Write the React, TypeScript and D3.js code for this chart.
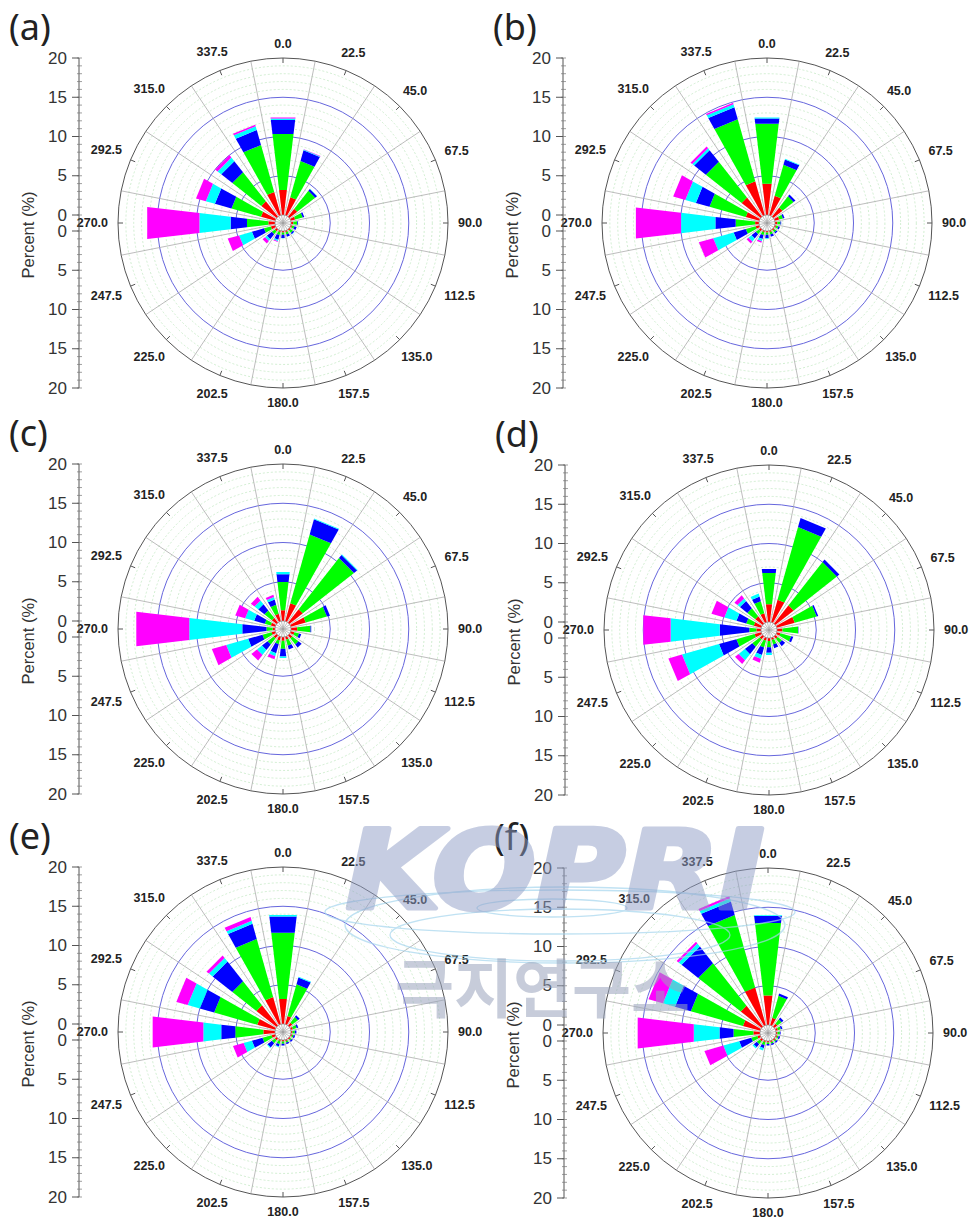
import React from 'react';
import * as d3 from 'd3';

const directions = [0, 22.5, 45, 67.5, 90, 112.5, 135, 157.5, 180, 202.5, 225, 247.5, 270, 292.5, 315, 337.5];
const speedColors = ['#ff0000', '#00ff00', '#0000ff', '#00ffff', '#ff00ff'];
const axisMajorTicks = [0, 5, 10, 15, 20];
const panelLabels = ['(a)', '(b)', '(c)', '(d)', '(e)', '(f)'];

// rows follow `directions`; columns are speed classes [red, green, blue, cyan, magenta] in %
const windA = [
  [3.2, 7.2, 1.8, 0.2, 0.1], [2.4, 4.8, 1.4, 0.1, 0.05], [1.3, 2.9, 0.3, 0.05, 0], [0.6, 1.0, 0.2, 0, 0],
  [0.3, 0.5, 0.1, 0, 0], [0.2, 0.3, 0.3, 0, 0], [0.2, 0.4, 0.2, 0.05, 0], [0.2, 0.3, 0.3, 0, 0],
  [0.2, 0.3, 0.4, 0.05, 0], [0.2, 0.4, 0.6, 0.2, 0.1], [0.3, 0.5, 0.8, 0.3, 0.4], [0.6, 0.9, 1.6, 1.7, 1.5],
  [0.85, 2.75, 2.1, 4.0, 6.7], [1.9, 3.9, 2.2, 1.2, 1.3], [2.5, 4.7, 1.8, 0.6, 0.4], [3.1, 6.2, 2.0, 0.5, 0.2],
];
const windB = [
  [4.0, 7.7, 0.7, 0.1, 0], [2.6, 4.1, 0.7, 0.1, 0], [1.5, 1.8, 0.3, 0, 0], [0.6, 0.5, 0.2, 0, 0],
  [0.3, 0.4, 0.1, 0, 0], [0.2, 0.3, 0.2, 0, 0], [0.2, 0.3, 0.2, 0, 0], [0.2, 0.3, 0.3, 0, 0],
  [0.2, 0.3, 0.4, 0.1, 0], [0.2, 0.4, 0.5, 0.3, 0.2], [0.3, 0.5, 0.7, 0.5, 0.3], [0.5, 1.3, 1.6, 2.7, 1.9],
  [0.5, 2.5, 2.6, 4.4, 5.8], [1.8, 4.8, 1.8, 1.4, 1.6], [3.1, 5.8, 1.9, 0.3, 0.3], [4.5, 8.2, 1.6, 0.4, 0.2],
];
const windC = [
  [1.4, 3.6, 1.0, 0.3, 0], [2.4, 9.1, 2.0, 0.1, 0], [2.2, 8.3, 0.5, 0.1, 0], [2.0, 2.8, 0.4, 0, 0],
  [0.8, 1.7, 0.1, 0, 0], [0.5, 0.6, 0.3, 0, 0], [0.5, 1.0, 0.5, 0, 0], [0.4, 0.8, 0.5, 0, 0],
  [0.5, 1.0, 1.0, 0.2, 0], [0.5, 0.5, 1.2, 0.4, 0.4], [0.5, 1.0, 0.9, 0.8, 0.9], [0.5, 1.2, 1.9, 2.9, 1.9],
  [0.3, 0.8, 3.1, 6.8, 6.8], [0.6, 0.8, 1.4, 1.2, 1.3], [0.8, 1.2, 1.0, 0.6, 0.6], [1.0, 1.2, 0.7, 0.3, 0.3],
];
const windD = [
  [2.3, 4.0, 0.5, 0, 0], [3.0, 9.6, 1.2, 0, 0], [3.0, 7.0, 0.4, 0, 0], [2.4, 2.9, 0.2, 0, 0],
  [0.7, 2.0, 0.05, 0, 0], [0.5, 1.4, 0.3, 0, 0], [0.4, 0.7, 0.5, 0, 0], [0.3, 0.6, 0.5, 0, 0],
  [0.4, 0.8, 0.7, 0.3, 0], [0.4, 0.9, 1.0, 0.5, 0.5], [0.5, 1.2, 1.2, 1.0, 0.6], [0.9, 2.4, 2.3, 4.9, 1.8],
  [0.6, 0.9, 3.8, 6.3, 3.5], [1.0, 1.0, 1.3, 1.6, 1.7], [1.2, 1.3, 1.2, 0.4, 0.5], [1.2, 1.6, 0.6, 0.4, 0],
];
const windE = [
  [3.2, 8.5, 2.1, 0.2, 0], [1.1, 4.2, 0.9, 0.1, 0], [0.5, 0.9, 0.3, 0, 0], [0.3, 0.5, 0.2, 0, 0],
  [0.2, 0.3, 0.2, 0, 0], [0.2, 0.2, 0.2, 0, 0], [0.2, 0.2, 0.2, 0, 0], [0.2, 0.2, 0.2, 0, 0],
  [0.2, 0.3, 0.2, 0, 0], [0.2, 0.4, 0.3, 0.1, 0], [0.3, 0.5, 0.7, 0.1, 0], [0.5, 1.2, 1.4, 1.1, 1.4],
  [1.5, 3.6, 1.8, 2.3, 6.5], [2.4, 5.7, 1.9, 1.6, 1.5], [3.3, 3.9, 3.2, 0.6, 0.4], [3.6, 7.7, 2.0, 0.4, 0.5],
];
const windF = [
  [3.8, 9.3, 0.9, 0.1, 0], [1.0, 2.9, 0.3, 0, 0], [0.5, 0.7, 0.3, 0, 0], [0.3, 0.4, 0.2, 0, 0],
  [0.2, 0.3, 0.1, 0, 0], [0.2, 0.2, 0.2, 0, 0], [0.2, 0.2, 0.2, 0, 0], [0.2, 0.2, 0.2, 0, 0],
  [0.2, 0.2, 0.2, 0, 0], [0.2, 0.4, 0.4, 0.3, 0], [0.3, 0.5, 0.5, 0.2, 0], [0.4, 0.8, 1.6, 2.1, 2.5],
  [0.85, 2.55, 1.8, 3.3, 7.2], [2.3, 6.9, 2.1, 1.6, 1.9], [3.4, 6.9, 2.7, 0.5, 0.3], [5.0, 9.6, 1.8, 0.4, 0.3],
];

const panelData = [windA, windB, windC, windD, windE, windF];
const panelCenters = [[283, 223], [767, 223], [283, 629], [769, 630], [283, 1032], [768, 1033]];

const HOLE = 8;
const OUTER = 165;
const HALF_W = 6.75;

const rad = (deg: number) => (deg * Math.PI) / 180;
const polar = (r: number, deg: number): [number, number] => [r * Math.sin(rad(deg)), -r * Math.cos(rad(deg))];

function WindRose({ cx, cy, data, label }: { cx: number; cy: number; data: number[][]; label: string }) {
  const rScale = d3.scaleLinear().domain([0, 20]).range([HOLE, OUTER]);
  const yTop = d3.scaleLinear().domain([0, 20]).range([cy - HOLE, cy - OUTER]);
  const yBot = d3.scaleLinear().domain([0, 20]).range([cy + HOLE, cy + OUTER]);
  const axisX = cx - 204;
  const line = d3.line();
  const ringVals = d3.range(1, 20);
  const minorTicks = d3.range(0, 21);

  const bars: JSX.Element[] = [];
  directions.forEach((dir, i) => {
    let acc = 0;
    data[i].forEach((v, k) => {
      if (v <= 0) return;
      const r0 = rScale(acc);
      const r1 = rScale(acc + v);
      acc += v;
      const pts = [polar(r0, dir - HALF_W), polar(r1, dir - HALF_W), polar(r1, dir + HALF_W), polar(r0, dir + HALF_W)];
      bars.push(<path key={`b${i}-${k}`} d={(line(pts) || '') + 'Z'} fill={speedColors[k]} />);
    });
  });

  const fs = 12.5;
  return (
    <g>
      <text x={cx - 274} y={cy - 183} fontFamily="'Noto Sans', sans-serif" fontSize={36} fill="#222">{label}</text>
      <g transform={`translate(${cx},${cy})`}>
        {ringVals.filter((v) => v % 5 !== 0).map((v) => (
          <circle key={`g${v}`} r={rScale(v)} fill="none" stroke="#bfe6bf" strokeWidth={0.7} strokeDasharray="2,2" />
        ))}
        {[5, 10, 15].map((v) => (
          <circle key={`m${v}`} r={rScale(v)} fill="none" stroke="#6666dd" strokeWidth={1} />
        ))}
        {directions.map((d) => {
          const [x2, y2] = polar(OUTER, d + 11.25);
          return <line key={`rl${d}`} x1={0} y1={0} x2={x2} y2={y2} stroke="#a0a0a0" strokeWidth={0.7} />;
        })}
        <circle r={OUTER} fill="none" stroke="#555" strokeWidth={1} />
        {directions.map((d) => {
          const [x1, y1] = polar(OUTER, d);
          const [x2, y2] = polar(OUTER - 5, d);
          return <line key={`tk${d}`} x1={x1} y1={y1} x2={x2} y2={y2} stroke="#555" strokeWidth={1} />;
        })}
        {bars}
        <circle r={HOLE} fill="none" stroke="#999" strokeWidth={0.8} />
        {directions.map((d) => {
          const txt = d.toFixed(1);
          const w = (txt.length - 1) * 0.556 * fs + 0.278 * fs;
          const s = Math.abs(Math.sin(rad(d)));
          const c = Math.abs(Math.cos(rad(d)));
          const rr = 175 + (w / 2) * s + 4.5 * c;
          const [x, y] = polar(rr, d);
          return (
            <text key={`dl${d}`} x={x} y={y} textAnchor="middle" dominantBaseline="central"
              fontFamily="'Liberation Sans', Arial, sans-serif" fontWeight="bold" fontSize={fs} fill="#222">{txt}</text>
          );
        })}
      </g>
      <line x1={axisX} x2={axisX} y1={yTop(20)} y2={yBot(20)} stroke="#555" strokeWidth={1} />
      {minorTicks.map((v) => (
        <g key={`mt${v}`}>
          <line x1={axisX - 2} x2={axisX + 3} y1={yTop(v)} y2={yTop(v)} stroke="#777" strokeWidth={0.7} />
          <line x1={axisX - 2} x2={axisX + 3} y1={yBot(v)} y2={yBot(v)} stroke="#777" strokeWidth={0.7} />
        </g>
      ))}
      {axisMajorTicks.map((v) => (
        <g key={`at${v}`}>
          <line x1={axisX - 7} x2={axisX} y1={yTop(v)} y2={yTop(v)} stroke="#555" strokeWidth={1} />
          <line x1={axisX - 7} x2={axisX} y1={yBot(v)} y2={yBot(v)} stroke="#555" strokeWidth={1} />
          <text x={axisX - 12} y={yTop(v)} textAnchor="end" dominantBaseline="central"
            fontFamily="'Liberation Sans', Arial, sans-serif" fontSize={17} fill="#333">{v}</text>
          <text x={axisX - 12} y={yBot(v)} textAnchor="end" dominantBaseline="central"
            fontFamily="'Liberation Sans', Arial, sans-serif" fontSize={17} fill="#333">{v}</text>
        </g>
      ))}
      <text transform={`translate(${cx - 255},${cy + 12}) rotate(-90)`} textAnchor="middle" dominantBaseline="central"
        fontFamily="'Liberation Sans', Arial, sans-serif" fontSize={16.5} fill="#333">Percent (%)</text>
    </g>
  );
}

function Watermark() {
  return (
    <g pointerEvents="none">
      <g opacity={0.7} fill="none" stroke="#a6d6ee" strokeWidth={1.3}>
        <ellipse cx={560} cy={912} rx={235} ry={22} />
        <ellipse cx={565} cy={925} rx={220} ry={38} />
        <ellipse cx={552} cy={908} rx={75} ry={9} />
        <ellipse cx={560} cy={935} rx={170} ry={26} />
      </g>
      <text x={346} y={908} fontFamily="'DejaVu Sans', sans-serif" fontWeight="bold" fontStyle="italic"
        fontSize={108} textLength={418} lengthAdjust="spacingAndGlyphs" fill="#8f9dc6" stroke="#8f9dc6"
        strokeWidth={5} strokeLinejoin="round" opacity={0.5}>KOPRI</text>
      <text x={395} y={1012} fontFamily="'Noto Sans CJK KR', sans-serif" fontWeight="bold"
        fontSize={64} textLength={295} lengthAdjust="spacingAndGlyphs" fill="#9aa4bc" opacity={0.55}>극지연구소</text>
    </g>
  );
}

export default function App() {
  return (
    <svg width={974} height={1218} style={{ position: 'absolute', left: 0, top: 0, background: '#fff' }}>
      <rect width={974} height={1218} fill="#fff" />
      {panelData.map((d, i) => (
        <WindRose key={i} cx={panelCenters[i][0]} cy={panelCenters[i][1]} data={d} label={panelLabels[i]} />
      ))}
      <Watermark />
    </svg>
  );
}
